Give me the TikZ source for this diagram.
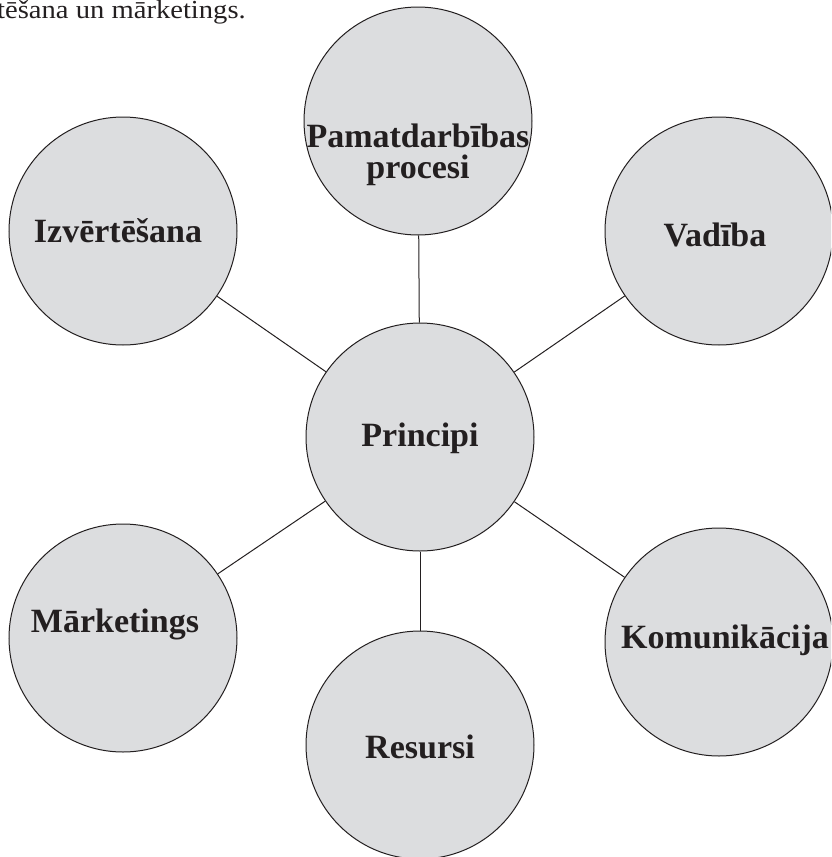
\documentclass[tikz,border=0pt]{standalone}
\usepackage{fontspec}
\setmainfont{Liberation Serif}
\newfontfamily\capfont[FakeStretch=1.1]{Liberation Serif}
\definecolor{linec}{HTML}{231F20}
\definecolor{bubfill}{HTML}{DCDDDF}
\begin{document}
\begin{tikzpicture}[x=1pt,y=-1pt,
  bub/.style={circle, draw=linec, fill=bubfill, line width=1pt, minimum size=228pt, inner sep=0pt},
  lab/.style={font=\fontsize{34}{31}\selectfont\bfseries, text=linec, anchor=base, inner sep=0pt},
  link/.style={draw=linec, line width=1pt}]
\useasboundingbox (0,0) rectangle (831,857);
\clip (0,0) rectangle (831,857);
% caption fragment
\node[anchor=base east, font=\capfont\fontsize{26}{28}\selectfont, text=linec, inner sep=0pt] (cap) at (246,18) {tēšana un mārketings.};
% circles
\node[bub] (top) at (418,121) {};
\node[bub] (izv) at (123,231) {};
\node[bub] (vad) at (719,231) {};
\node[bub] (mar) at (123,638) {};
\node[bub] (kom) at (719,642) {};
\node[bub] (res) at (420,745) {};
\node[bub] (cen) at (420,437) {};
% connectors
\draw[link] (cen) -- (top);
\draw[link] (cen) -- (izv);
\draw[link] (cen) -- (vad);
\draw[link] (cen) -- (mar);
\draw[link] (cen) -- (kom);
\draw[link] (cen) -- (res);
% labels
\node[lab] (ltopa) at (418,147) {Pamatdarbības};
\node[lab] (ltopb) at (418,178) {procesi};
\node[lab] (lcen) at (420,446) {Principi};
\node[lab] (lizv) at (118,242) {Izvērtēšana};
\node[lab] (lvad) at (715,246) {Vadība};
\node[lab] (lmar) at (115,632) {Mārketings};
\node[lab] (lkom) at (725,648) {Komunikācija};
\node[lab] (lres) at (420,758) {Resursi};
\end{tikzpicture}
\end{document}
